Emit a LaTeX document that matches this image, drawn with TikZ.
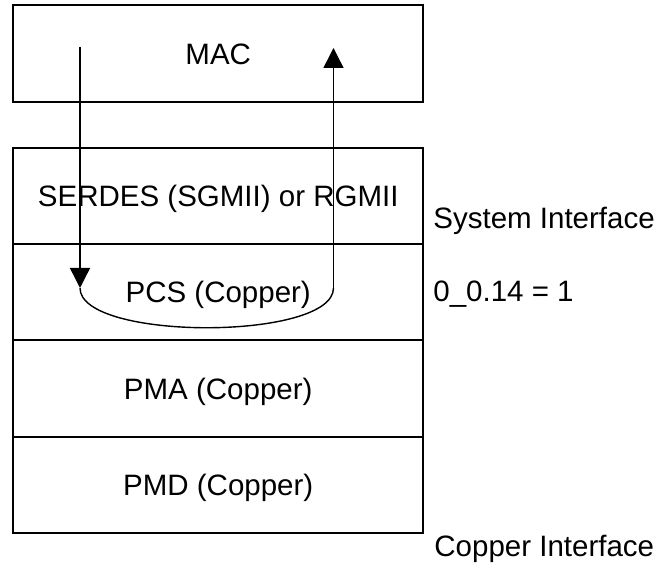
\documentclass[tikz,border=0pt]{standalone}
\usepackage{fontspec}
\setmainfont{Liberation Sans}
\usetikzlibrary{arrows.meta}

\begin{document}
\begin{tikzpicture}[x=0.5pt, y=-0.5pt,
    layer/.style={draw, line width=1pt, minimum width=205.25pt, minimum height=48.18pt,
      inner sep=0pt, outer sep=0pt, text height=0.72em, text depth=0pt},
    side/.style={anchor=base west, inner sep=0pt},
    flow/.style={line width=0.7pt, -{Triangle[length=10pt, width=10pt]}}]
      \useasboundingbox (0, 0) rectangle (661, 571);
      \fontsize{14.75pt}{17pt}\selectfont

      \node[layer, minimum height=48.75pt] (mac) at (218.25, 53.75) {MAC};

      \foreach \t [count=\i] in {SERDES (SGMII) or RGMII, PCS (Copper), PMA (Copper), PMD (Copper)}
        \node[layer] (s\i) at (218.25, 99.5 + \i*96.35) {\t};

      \node[side] (sys) at (433, 229) {System Interface};
      \node[side] (reg) at (433, 302) {0\_0.14 = 1};
      \node[side] (cu) at (434, 557) {Copper Interface};

      \coordinate (tx1) at (80, 47);
      \coordinate (tx2) at (80, 288);
      \coordinate (rx1) at (333.5, 288);
      \coordinate (rx2) at (333.5, 48);

      \draw[flow] (tx1) -- (tx2);
      \draw[line width=0.7pt] (tx2) .. controls (80, 341) and (333.5, 341) .. (rx1);
      \draw[flow] (rx1) -- (rx2);
    \end{tikzpicture}
\end{document}
